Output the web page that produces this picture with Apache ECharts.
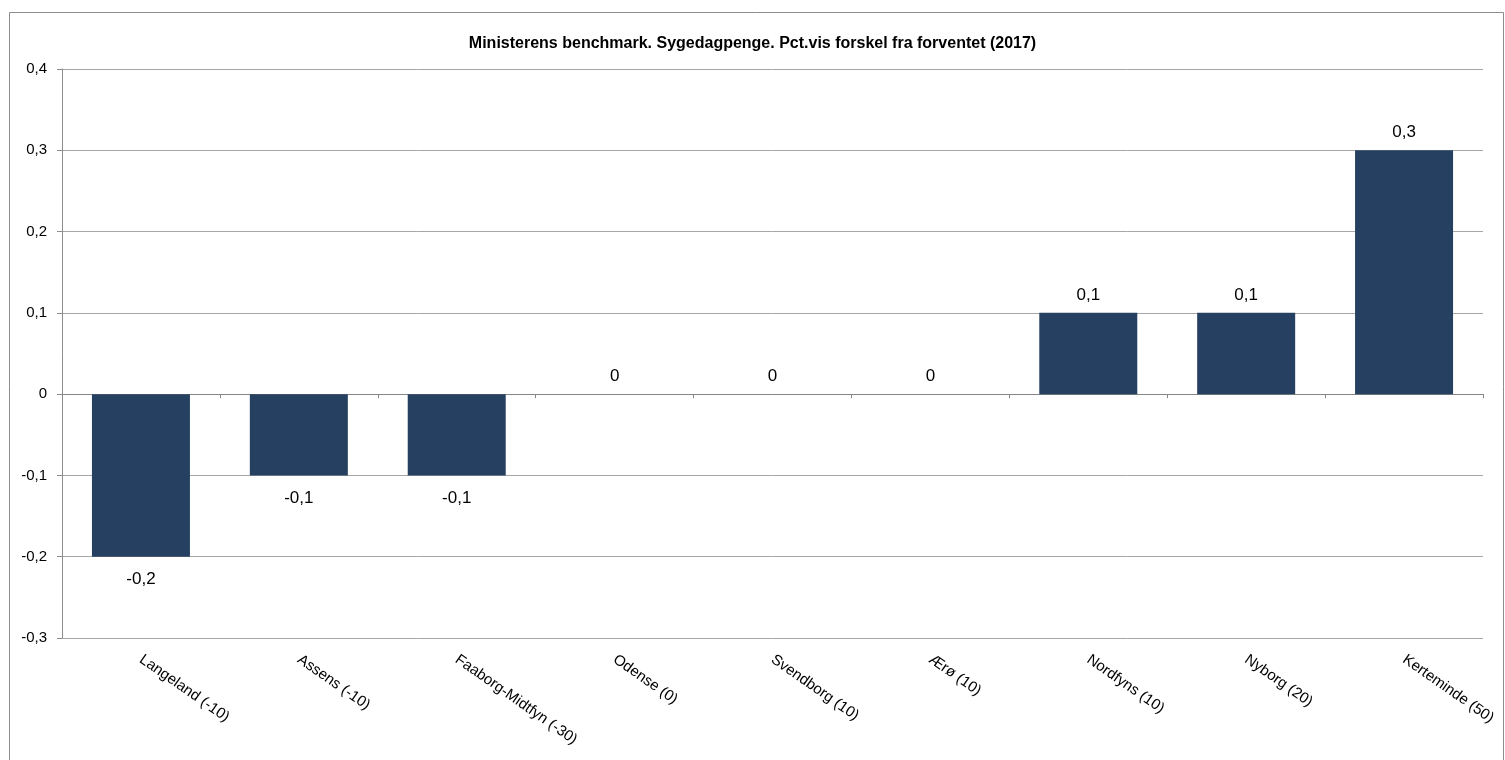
<!DOCTYPE html>
<html>
<head>
<meta charset="utf-8">
<script src="https://cdn.jsdelivr.net/npm/echarts@6/dist/echarts.min.js"></script>
<style>
html,body{margin:0;padding:0;background:#fff;}
#chart{width:1505px;height:760px;}
</style>
</head>
<body>
<div id="chart"></div>
<script>
const titleText = 'Ministerens benchmark. Sygedagpenge. Pct.vis forskel fra forventet (2017)';
const categories = ['Langeland (-10)', 'Assens (-10)', 'Faaborg-Midtfyn (-30)', 'Odense (0)', 'Svendborg (10)', 'Ærø (10)', 'Nordfyns (10)', 'Nyborg (20)', 'Kerteminde (50)'];
const values = [-0.2, -0.1, -0.1, 0, 0, 0, 0.1, 0.1, 0.3];
const yMin = -0.3, yMax = 0.4, yStep = 0.1;

const fmt = v => String(Math.round(v * 10) / 10).replace('.', ',');
const FONT = 'Liberation Sans';
const chart = echarts.init(document.getElementById('chart'), null, {renderer: 'canvas'});
chart.setOption({
  backgroundColor: '#ffffff',
  animation: false,
  title: {
    text: titleText, left: 'center', top: 31,
    textStyle: {fontFamily: FONT, fontSize: 16, fontWeight: 'bold', color: '#000'}
  },
  graphic: [{
    type: 'rect', shape: {x: 9.5, y: 12.5, width: 1494, height: 800},
    style: {fill: 'none', stroke: '#8c8c8c', lineWidth: 1}, silent: true
  }],
  grid: {left: 62, right: 22, top: 69, bottom: 122},
  xAxis: [{
    type: 'category', data: categories, position: 'bottom',
    axisLine: {show: false, onZero: false}, axisTick: {show: false},
    axisLabel: {rotate: -35, interval: 0, margin: 20, fontFamily: FONT, fontSize: 15, color: '#000'}
  }, {
    type: 'category', data: categories, position: 'bottom',
    axisLine: {show: true, onZero: true, lineStyle: {color: '#868686', width: 1}},
    axisTick: {show: true, length: 4, inside: false, lineStyle: {color: '#868686'}},
    axisLabel: {show: false}
  }],
  yAxis: {
    type: 'value', min: yMin, max: yMax, interval: yStep,
    axisLine: {show: true, lineStyle: {color: '#8c8c8c'}},
    axisTick: {show: true, length: 5, lineStyle: {color: '#8c8c8c'}},
    splitLine: {show: true, lineStyle: {color: '#a6a6a6', width: 1}},
    axisLabel: {formatter: fmt, margin: 15, fontFamily: FONT, fontSize: 15, color: '#000'}
  },
  series: [{
    type: 'bar', xAxisIndex: 0, barWidth: 98,
    itemStyle: {color: '#264061'},
    data: values.map(v => ({
      value: v,
      label: {position: v < 0 ? 'bottom' : 'top', distance: v < 0 ? 14 : 9}
    })),
    label: {
      show: true, formatter: p => fmt(p.value),
      fontFamily: FONT, fontSize: 17, color: '#000'
    }
  }]
});
</script>
</body>
</html>
